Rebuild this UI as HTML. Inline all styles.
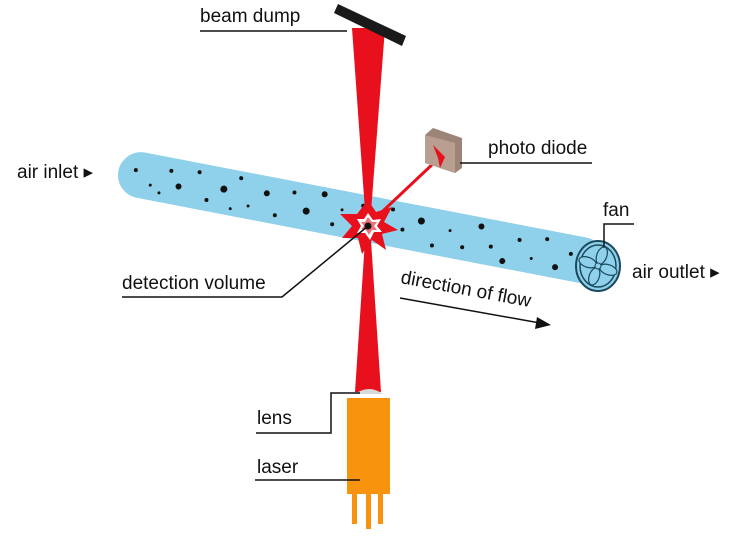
<!DOCTYPE html>
<html><head><meta charset="utf-8"><style>
html,body{margin:0;padding:0;background:#fff;}
svg{display:block;}
text{font-family:"Liberation Sans Narrow","Liberation Sans",sans-serif;font-size:19px;fill:#111;}
</style></head><body>
<svg width="740" height="537" viewBox="0 0 740 537" xmlns="http://www.w3.org/2000/svg">
<!-- tube -->
<g transform="translate(140,175) rotate(10.9)">
<rect x="-22" y="-23" width="495" height="46" rx="23" fill="#8fd0ea"/>
<g fill="#111">
<circle cx="-5" cy="-4" r="2"/><circle cx="12" cy="8" r="1.5"/><circle cx="30" cy="-10" r="2"/><circle cx="40" cy="4" r="3"/>
<circle cx="58" cy="-14" r="2"/><circle cx="70" cy="12" r="2"/><circle cx="85" cy="-2" r="3.5"/><circle cx="100" cy="-16" r="2"/>
<circle cx="112" cy="10" r="1.5"/><circle cx="128" cy="-6" r="3"/><circle cx="140" cy="14" r="2"/><circle cx="155" cy="-12" r="2"/>
<circle cx="170" cy="4" r="3.5"/><circle cx="185" cy="-16" r="3"/><circle cx="198" cy="12" r="2"/><circle cx="205" cy="-4" r="1.5"/>
<circle cx="240" cy="8" r="4"/><circle cx="255" cy="-14" r="2"/><circle cx="268" cy="4" r="2"/><circle cx="285" cy="-8" r="3.5"/>
<circle cx="300" cy="14" r="2"/><circle cx="315" cy="-4" r="1.5"/><circle cx="330" cy="10" r="2"/><circle cx="345" cy="-14" r="3"/>
<circle cx="358" cy="4" r="2"/><circle cx="372" cy="16" r="3"/><circle cx="385" cy="-8" r="2"/><circle cx="400" cy="8" r="1.5"/>
<circle cx="412" cy="-14" r="2"/><circle cx="425" cy="12" r="3"/><circle cx="438" cy="-4" r="2"/><circle cx="450" cy="10" r="1.5"/>
<circle cx="22" cy="14" r="1.5"/><circle cx="95" cy="16" r="1.5"/><circle cx="225" cy="-12" r="2"/>
</g>
</g>
<!-- beam -->
<polygon points="352,28 385,28 370,225 366,225" fill="#e8101c"/>
<polygon points="366,225 370,225 381,392 355,392" fill="#e8101c"/>
<line x1="368" y1="225" x2="437" y2="160" stroke="#e8101c" stroke-width="3"/>
<!-- beam dump -->
<polygon points="338,4 406,36 402,46 334,13" fill="#1a1a1a"/>
<!-- photodiode -->
<polygon points="425,135 433,128 462,138 462,168 455,173 425,163" fill="#9c8577"/>
<polygon points="425,135 455,143 455,173 425,163" fill="#b89f91"/>
<polygon points="433,145 445,157 440,168 438,158" fill="#e8101c"/>
<!-- star -->
<polygon points="368,200 376,212 392,207 384,222 398,230 382,234 386,250 372,240 362,254 358,238 342,238 352,226 340,214 357,214" fill="#e8101c"/>
<polygon points="368,213 373,220 381,219 377,226 382,232 374,232 370,240 365,233 357,233 361,226 357,219 364,219" fill="#fff"/>
<polygon points="368,217 372,222 377,222 374,226 377,230 372,230 369,235 366,230 361,229 364,226 361,222 365,222" fill="#e8101c" opacity="0.6"/>
<circle cx="368" cy="226" r="3.5" fill="#111"/>
<!-- fan -->
<g transform="translate(598,266)">
<ellipse cx="0" cy="0" rx="22" ry="25" fill="#8fd0ea" stroke="#1b4a5e" stroke-width="2"/>
<ellipse cx="0" cy="0" rx="18" ry="21" fill="none" stroke="#1b4a5e" stroke-width="1.5"/>
<g fill="#8fd0ea" stroke="#1b4a5e" stroke-width="1.2">
<ellipse cx="0" cy="-11" rx="5" ry="9" transform="rotate(20)"/>
<ellipse cx="0" cy="-11" rx="5" ry="9" transform="rotate(110)"/>
<ellipse cx="0" cy="-11" rx="5" ry="9" transform="rotate(200)"/>
<ellipse cx="0" cy="-11" rx="5" ry="9" transform="rotate(290)"/>
</g>
<circle r="3" fill="#8fd0ea" stroke="#1b4a5e"/>
</g>
<!-- laser -->
<path d="M355,394 Q369,384 383,394 Z" fill="#d8d8d8"/>
<rect x="347" y="398" width="43" height="96" fill="#f7930d"/>
<rect x="352" y="494" width="5" height="30" fill="#f7930d"/>
<rect x="366" y="494" width="5" height="35" fill="#f7930d"/>
<rect x="378" y="494" width="5" height="30" fill="#f7930d"/>
<!-- leader lines -->
<g stroke="#111" stroke-width="1.5" fill="none">
<polyline points="200,31 347,31"/>
<polyline points="460,163 592,163"/>
<polyline points="604,247 604,224 634,224"/>
<polyline points="122,297 282,297 368,226"/>
<polyline points="256,433 331,433 331,393 360,393"/>
<polyline points="255,480 360,480"/>
<line x1="400" y1="298" x2="540" y2="323"/>
</g>
<polygon points="551,325 537,317 535,329" fill="#111"/>
<!-- labels -->
<text x="200" y="22">beam dump</text>
<text x="488" y="154">photo diode</text>
<text x="17" y="178">air inlet ▸</text>
<text x="603" y="216">fan</text>
<text x="632" y="278">air outlet ▸</text>
<text x="122" y="289">detection volume</text>
<text x="0" y="0" transform="translate(400,283) rotate(10.5)">direction of flow</text>
<text x="257" y="424">lens</text>
<text x="257" y="473">laser</text>
</svg>
</body></html>
